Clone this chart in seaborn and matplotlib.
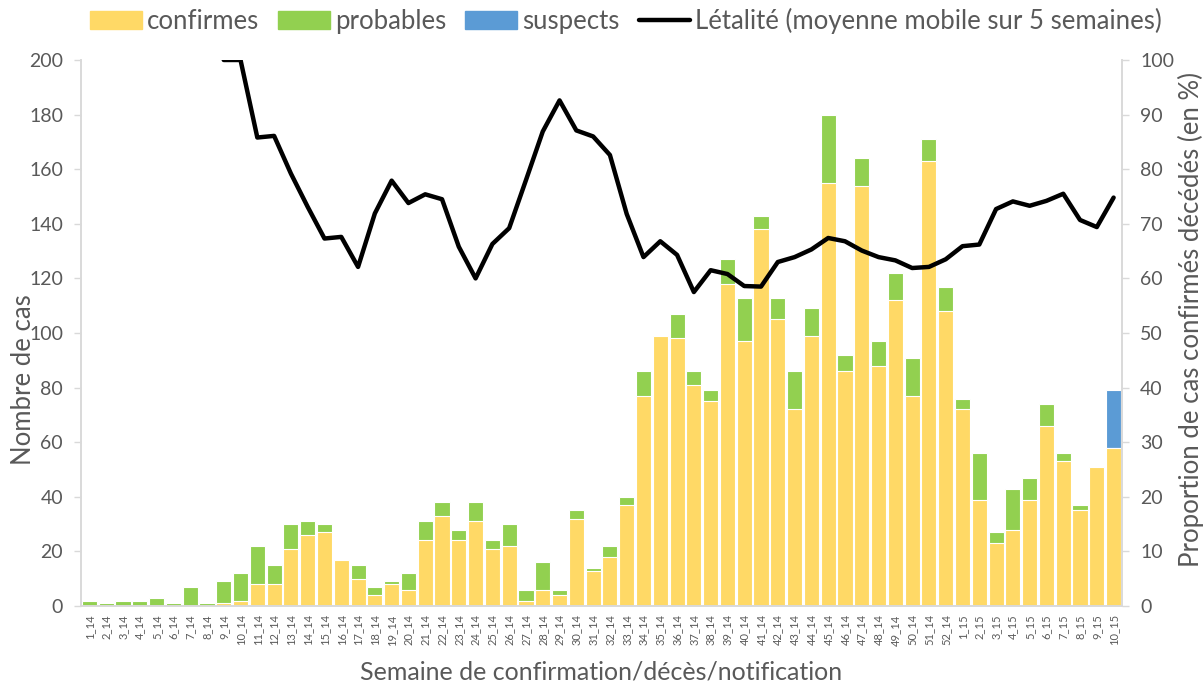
import numpy as np
import pandas as pd
import matplotlib
matplotlib.use("Agg")
import matplotlib.pyplot as plt
import seaborn as sns
from matplotlib.patches import Patch
from matplotlib.lines import Line2D

weeks = [f"{i}_14" for i in range(1, 53)] + [f"{i}_15" for i in range(1, 11)]

confirmes = [0, 0, 0, 0, 0, 0, 0, 0, 1, 2, 8, 8, 21, 26, 27, 17, 10, 4, 8, 6,
             24, 33, 24, 31, 21, 22, 2, 6, 4, 32, 13, 18, 37, 77, 99, 98, 81, 75, 118, 97,
             138, 105, 72, 99, 155, 86, 154, 88, 112, 77, 163, 108,
             72, 39, 23, 28, 39, 66, 53, 35, 51, 58]
probables = [2, 1, 2, 2, 3, 1, 7, 1, 8, 10, 14, 7, 9, 5, 3, 0, 5, 3, 1, 6,
             7, 5, 4, 7, 3, 8, 4, 10, 2, 3, 1, 4, 3, 9, 0, 9, 5, 4, 9, 16,
             5, 8, 14, 10, 25, 6, 10, 9, 10, 14, 8, 9,
             4, 17, 4, 15, 8, 8, 3, 2, 0, 0]
suspects = [0] * 61 + [21]

letalite = [np.nan] * 8 + [
    100, 100, 85.8, 86.1, 79.2, 73.1, 67.3, 67.6, 62.1, 71.9, 77.9, 73.8,
    75.4, 74.5, 65.8, 60.0, 66.3, 69.2, 78.0, 86.9, 92.6, 87.1, 86.0, 82.6,
    71.8, 63.9, 66.8, 64.3, 57.5, 61.5, 60.8, 58.6, 58.5, 63.0, 63.9, 65.3,
    67.4, 66.8, 65.1, 63.9, 63.3, 61.9, 62.1, 63.5,
    65.9, 66.2, 72.7, 74.1, 73.3, 74.2, 75.5, 70.7, 69.4, 74.8]

df = pd.DataFrame({"semaine": weeks, "confirmes": confirmes,
                   "probables": probables, "suspects": suspects,
                   "letalite": letalite})
df["cp"] = df["confirmes"] + df["probables"]
df["total"] = df["cp"] + df["suspects"]
df["pos"] = np.arange(len(df))

c_conf = "#FFD966"
c_prob = "#92D050"
c_susp = "#5B9BD5"
gray = "#595959"
spine = "#D9D9D9"

sns.set_theme(style="white")
plt.rcParams["font.family"] = ["Lato", "DejaVu Sans"]

fig = plt.figure(figsize=(12.04, 6.88), dpi=100)
ax = fig.add_axes([0.0673, 0.1192, 0.8646, 0.7936])

kw = dict(x="semaine", order=weeks, width=0.9, edgecolor="white",
          linewidth=0.8, ax=ax, dodge=False)
sns.barplot(data=df, y="total", color=c_susp, saturation=1, **kw)
sns.barplot(data=df, y="cp", color=c_prob, saturation=1, **kw)
sns.barplot(data=df, y="confirmes", color=c_conf, saturation=1, **kw)

ax.set_xlim(-0.5, len(weeks) - 0.5)
ax.set_ylim(0, 200)
ax.set_yticks(np.arange(0, 201, 20))
ax.tick_params(axis="y", colors=spine, labelcolor=gray, labelsize=14,
               length=5, width=1, left=True, direction="out", pad=8)
ax.tick_params(axis="x", labelcolor=gray, labelsize=8, rotation=90,
               length=0, pad=6)
ax.set_xlabel("Semaine de confirmation/décès/notification", color=gray,
              fontsize=18)
ax.xaxis.set_label_coords(0.4995, -0.100)
ax.set_ylabel("Nombre de cas", color=gray, fontsize=18.5)
ax.yaxis.set_label_coords(-0.043, 0.414)
for s in ["left", "right", "bottom"]:
    ax.spines[s].set_color(spine)
    ax.spines[s].set_linewidth(1.2)
ax.spines["top"].set_visible(False)

ax2 = ax.twinx()
sns.lineplot(data=df, x="pos", y="letalite", color="black", linewidth=3.2,
             ax=ax2)
ax2.set_xlim(-0.5, len(weeks) - 0.5)
ax2.set_ylim(0, 100)
ax2.set_yticks(np.arange(0, 101, 10))
ax2.tick_params(axis="y", colors=spine, labelcolor=gray, labelsize=14,
                length=5, width=1, right=True, direction="out", pad=8)
ax2.set_ylabel("Proportion de cas confirmés décédés (en %)", color=gray,
               fontsize=18.5)
ax2.yaxis.set_label_coords(1.0535, 0.525)
ax2.set_xlabel("")
for s in ["left", "right", "bottom"]:
    ax2.spines[s].set_color(spine)
    ax2.spines[s].set_linewidth(1.2)
ax2.spines["top"].set_visible(False)
ax2.grid(False)
ax.grid(False)

handles = [Patch(color=c_conf), Patch(color=c_prob), Patch(color=c_susp),
           Line2D([0], [0], color="black", linewidth=3.2)]
labels = ["confirmes", "probables", "suspects",
          "Létalité (moyenne mobile sur 5 semaines)"]
fig.legend(handles, labels, loc="center", bbox_to_anchor=(0.52, 0.969),
           ncol=4, frameon=False, fontsize=18.5, labelcolor=gray,
           handlelength=2.0, handleheight=0.7, handletextpad=0.2,
           columnspacing=0.75, borderpad=0.1)

fig.savefig("out.png", dpi=100)
